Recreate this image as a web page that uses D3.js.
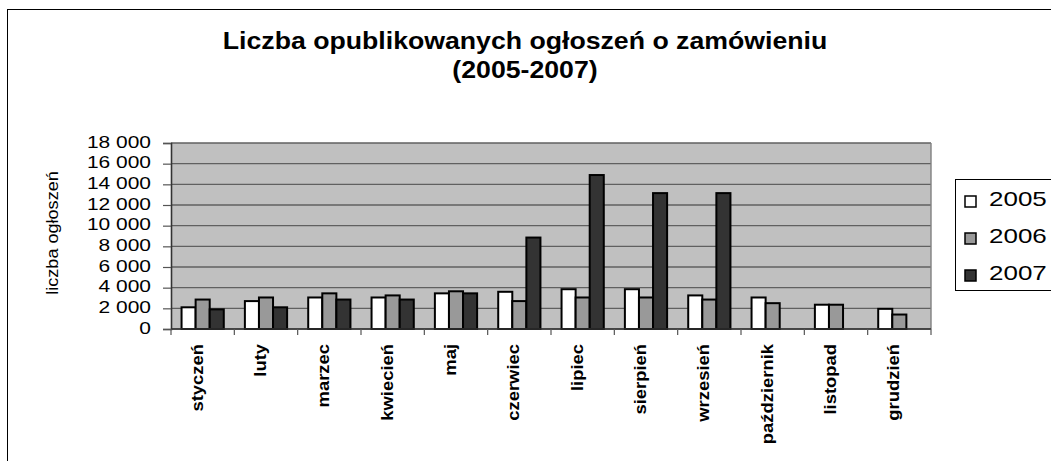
<!DOCTYPE html>
<html>
<head>
<meta charset="utf-8">
<script src="https://cdn.jsdelivr.net/npm/d3@7"></script>
<style>
  body { margin: 0; background: #fff; }
  text { font-family: "Liberation Sans", Arial, sans-serif; fill: #000; }
</style>
</head>
<body>
<div id="vis"></div>
<script>
var months = ['styczeń', 'luty', 'marzec', 'kwiecień', 'maj', 'czerwiec', 'lipiec',
  'sierpień', 'wrzesień', 'październik', 'listopad', 'grudzień'];
var years = ['2005', '2006', '2007'];
var values2005 = [2100, 2700, 3050, 3050, 3450, 3600, 3850, 3850, 3250, 3050, 2350, 1950];
var values2006 = [2850, 3050, 3450, 3250, 3650, 2700, 3050, 3050, 2850, 2500, 2350, 1400];
var values2007 = [1900, 2100, 2850, 2850, 3450, 8850, 14900, 13150, 13150, null, null, null];
var yTicks = [0, 2000, 4000, 6000, 8000, 10000, 12000, 14000, 16000, 18000];
var colours = ['#ffffff', '#999999', '#333333'];

var width = 1051;
var height = 461;

var margin = {
  top: 143,
  bottom: 132,
  left: 171,
  right: 120
};

var svg_root = d3.select('#vis')
  .append('svg')
  .attr('width', width)
  .attr('height', height);

// outer chart frame (runs off the right and bottom edge)
svg_root.append('rect')
  .attr('x', 7.5)
  .attr('y', 9.5)
  .attr('width', 1200)
  .attr('height', 600)
  .attr('fill', '#fff')
  .attr('stroke', '#000')
  .attr('stroke-width', 1);

var svg = svg_root.append('g')
  .attr('transform', 'translate(' + margin.left + ',' + margin.top + ')');

var w = width - margin.left - margin.right;
var h = height - margin.top - margin.bottom;

var series = [values2005, values2006, values2007];
var data = months.map(function(m, i) {
  return {
    month: m,
    values: years.map(function(y, j) {
      return { year: y, value: series[j][i], idx: j };
    })
  };
});

var x_scale = d3.scaleBand()
  .domain(months)
  .range([0, w])
  .padding(0);

var x_inner = d3.scaleBand()
  .domain(years)
  .range([0, x_scale.bandwidth()])
  .paddingInner(0)
  .paddingOuter(0.75);

var y_scale = d3.scaleLinear()
  .domain([0, 18000])
  .range([h, 0]);

var pl = d3.formatLocale({ decimal: ',', thousands: '\u00a0', grouping: [3], currency: ['', ''] });
var fmt = pl.format(',');

// plot background
svg.append('rect')
  .attr('width', w)
  .attr('height', h)
  .attr('fill', '#c0c0c0');

// gridlines
svg.append('g')
  .selectAll('line')
  .data(yTicks)
  .enter()
  .append('line')
  .attr('x1', 0)
  .attr('x2', w)
  .attr('y1', function(d) { return y_scale(d); })
  .attr('y2', function(d) { return y_scale(d); })
  .attr('stroke', '#606060')
  .attr('stroke-width', 1.4);

// right border of plot area
svg.append('line')
  .attr('x1', w).attr('x2', w)
  .attr('y1', 0).attr('y2', h)
  .attr('stroke', '#808080')
  .attr('stroke-width', 1.4);

// bars
var groups = svg.selectAll('.month')
  .data(data)
  .enter()
  .append('g')
  .attr('class', 'month')
  .attr('transform', function(d) { return 'translate(' + x_scale(d.month) + ',0)'; });

groups.selectAll('rect')
  .data(function(d) { return d.values.filter(function(v) { return v.value != null; }); })
  .enter()
  .append('rect')
  .attr('x', function(d) { return x_inner(d.year); })
  .attr('width', x_inner.bandwidth())
  .attr('y', function(d) { return y_scale(d.value); })
  .attr('height', function(d) { return h - y_scale(d.value); })
  .attr('fill', function(d) { return colours[d.idx]; })
  .attr('stroke', '#000')
  .attr('stroke-width', 2);

// y axis
var sxTick = 1.27;
var y_axis = d3.axisLeft(y_scale)
  .tickValues(yTicks)
  .tickSize(8)
  .tickPadding(0)
  .tickFormat(function(d) { return fmt(d); });

var yg = svg.append('g')
  .attr('class', 'y axis')
  .call(y_axis);

yg.select('.domain').attr('stroke', '#333').attr('stroke-width', 1.6);
yg.selectAll('.tick line').attr('stroke', '#555').attr('stroke-width', 1.2);
yg.selectAll('.tick text')
  .attr('x', -20 / sxTick)
  .attr('dy', '0.25em')
  .attr('transform', 'scale(' + sxTick + ',1)')
  .style('font-size', '16.5px')
  .style('font-family', '"Liberation Sans", Arial, sans-serif');

// x axis line and boundary ticks
svg.append('line')
  .attr('x1', 0).attr('x2', w)
  .attr('y1', h).attr('y2', h)
  .attr('stroke', '#333')
  .attr('stroke-width', 1.6);

svg.append('g')
  .selectAll('line')
  .data(months.concat(['end']))
  .enter()
  .append('line')
  .attr('x1', function(d, i) { return i * x_scale.step(); })
  .attr('x2', function(d, i) { return i * x_scale.step(); })
  .attr('y1', h)
  .attr('y2', h + 6)
  .attr('stroke', '#555')
  .attr('stroke-width', 1.2);

// month labels
svg.append('g')
  .selectAll('text')
  .data(months)
  .enter()
  .append('text')
  .attr('transform', function(d) {
    return 'translate(' + (x_scale(d) + x_scale.bandwidth() / 2) + ',' + (h + 15) + ')rotate(-90)scale(1.15,1)';
  })
  .attr('text-anchor', 'end')
  .style('font-size', '16px')
  .style('font-weight', 'bold')
  .text(function(d) { return d; });

// y axis title
svg_root.append('text')
  .attr('transform', 'translate(58,233)rotate(-90)scale(1.13,1)')
  .attr('text-anchor', 'middle')
  .style('font-size', '16px')
  .text('liczba ogłoszeń');

// chart title
svg_root.append('text')
  .attr('transform', 'translate(525,49)scale(1.16,1)')
  .attr('text-anchor', 'middle')
  .style('font-size', '23px')
  .style('font-weight', 'bold')
  .text('Liczba opublikowanych ogłoszeń o zamówieniu');

svg_root.append('text')
  .attr('transform', 'translate(525,78)scale(1.16,1)')
  .attr('text-anchor', 'middle')
  .style('font-size', '23px')
  .style('font-weight', 'bold')
  .text('(2005-2007)');

// legend
var legend = svg_root.append('g')
  .attr('transform', 'translate(955,179)');

legend.append('rect')
  .attr('x', 0.5)
  .attr('y', 0.5)
  .attr('width', 200)
  .attr('height', 111)
  .attr('fill', '#fff')
  .attr('stroke', '#000')
  .attr('stroke-width', 1);

var items = legend.selectAll('.item')
  .data(years)
  .enter()
  .append('g')
  .attr('class', 'item')
  .attr('transform', function(d, i) { return 'translate(0,' + (17 + i * 37) + ')'; });

items.append('rect')
  .attr('x', 10)
  .attr('y', 0)
  .attr('width', 11)
  .attr('height', 11)
  .attr('fill', function(d, i) { return colours[i]; })
  .attr('stroke', '#000')
  .attr('stroke-width', 1.5);

items.append('text')
  .attr('transform', 'translate(34,10)scale(1.3,1)')
  .style('font-size', '20px')
  .text(function(d) { return d; });
</script>
</body>
</html>
